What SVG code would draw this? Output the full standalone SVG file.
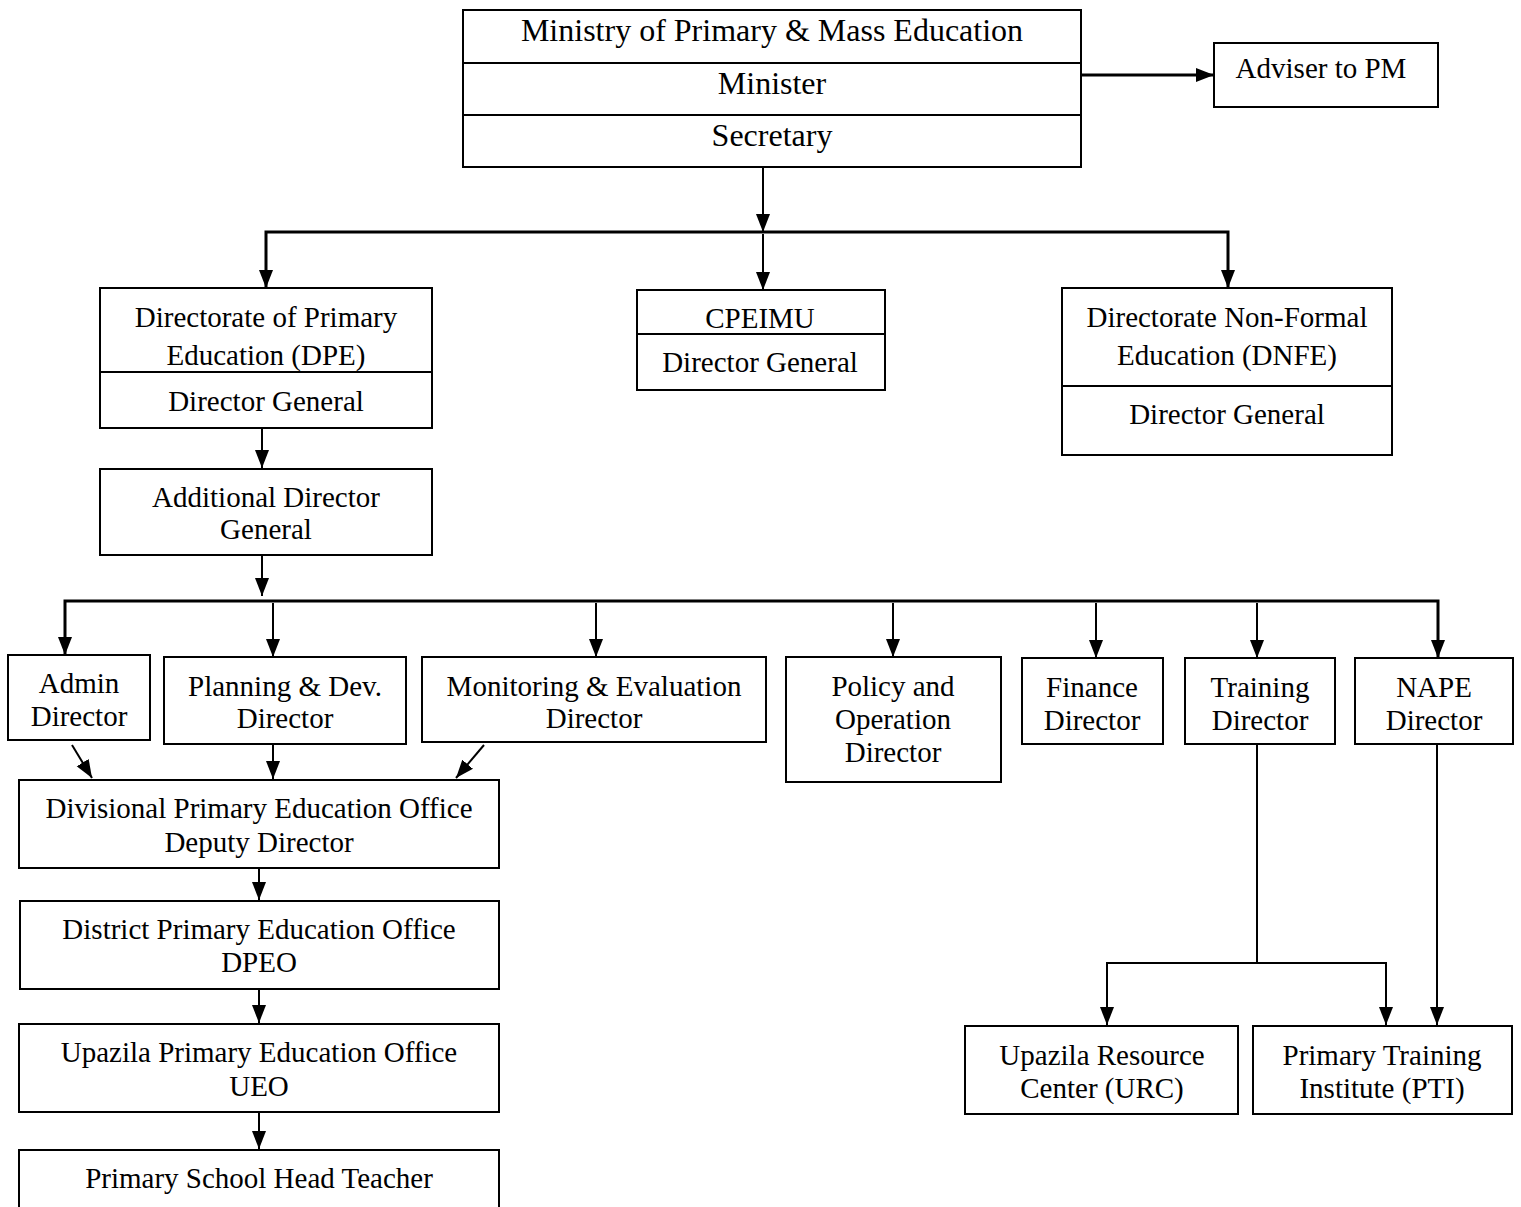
<svg xmlns="http://www.w3.org/2000/svg" width="1521" height="1207" viewBox="0 0 1521 1207">
<defs>
<marker id="ah" markerUnits="userSpaceOnUse" markerWidth="18" markerHeight="16" viewBox="0 0 18 16" refX="18" refY="8" orient="auto">
<path d="M0,1 L18,8 L0,15 Z" fill="#000"/>
</marker>
</defs>
<style>
.b{fill:#fff;stroke:#000;stroke-width:2}
.d{stroke:#000;stroke-width:2}
text{font-family:"Liberation Serif","Times New Roman",serif;font-size:29px;fill:#000;text-anchor:middle}
.big{font-size:32px}
.c{fill:none;stroke:#000;stroke-width:2}
.bus{fill:none;stroke:#000;stroke-width:3}
.a{fill:none;stroke:#000;stroke-width:2;marker-end:url(#ah)}
.a3{fill:none;stroke:#000;stroke-width:3;marker-end:url(#ah)}
</style>
<rect width="1521" height="1207" fill="#fff"/>
<g id="connectors">
<line class="a3" x1="1081" y1="75" x2="1214" y2="75"/>
<line class="a" x1="763" y1="167" x2="763" y2="232"/>
<polyline class="bus" points="266,288 266,232 1228,232 1228,288"/>
<line class="a" x1="266" y1="234" x2="266" y2="288"/>
<line class="a" x1="763" y1="234" x2="763" y2="290"/>
<line class="a" x1="1228" y1="234" x2="1228" y2="288"/>
<line class="a" x1="262" y1="428" x2="262" y2="468"/>
<line class="a" x1="262" y1="555" x2="262" y2="596"/>
<polyline class="bus" points="65,655 65,601 1438,601 1438,658"/>
<line class="a" x1="65" y1="603" x2="65" y2="655"/>
<line class="a" x1="273" y1="603" x2="273" y2="657"/>
<line class="a" x1="596" y1="603" x2="596" y2="657"/>
<line class="a" x1="893" y1="603" x2="893" y2="657"/>
<line class="a" x1="1096" y1="603" x2="1096" y2="658"/>
<line class="a" x1="1257" y1="603" x2="1257" y2="658"/>
<line class="a" x1="1438" y1="603" x2="1438" y2="658"/>
<line class="a" x1="72" y1="745" x2="92" y2="778"/>
<line class="a" x1="273" y1="744" x2="273" y2="779"/>
<line class="a" x1="484" y1="745" x2="456" y2="778"/>
<line class="a" x1="259" y1="868" x2="259" y2="900"/>
<line class="a" x1="259" y1="989" x2="259" y2="1023"/>
<line class="a" x1="259" y1="1113" x2="259" y2="1149"/>
<line class="c" x1="1257" y1="744" x2="1257" y2="963"/>
<polyline class="c" points="1107,1025 1107,963 1386,963 1386,1025"/>
<line class="a" x1="1107" y1="965" x2="1107" y2="1025"/>
<line class="a" x1="1386" y1="965" x2="1386" y2="1025"/>
<line class="a" x1="1437" y1="744" x2="1437" y2="1025"/>
</g>
<g id="ministry">
<rect class="b" x="463" y="10" width="618" height="157"/>
<line class="d" x1="463" y1="63" x2="1081" y2="63"/>
<line class="d" x1="463" y1="115" x2="1081" y2="115"/>
<text class="big" x="772" y="41">Ministry of Primary &amp; Mass Education</text>
<text class="big" x="772" y="94">Minister</text>
<text class="big" x="772" y="146">Secretary</text>
</g>
<g id="adviser">
<rect class="b" x="1214" y="43" width="224" height="64"/>
<text x="1321" y="78">Adviser to PM</text>
</g>
<g id="dpe">
<rect class="b" x="100" y="288" width="332" height="140"/>
<line class="d" x1="100" y1="372" x2="432" y2="372"/>
<text x="266" y="327">Directorate of Primary</text>
<text x="266" y="365">Education (DPE)</text>
<text x="266" y="411">Director General</text>
</g>
<g id="cpeimu">
<rect class="b" x="637" y="290" width="248" height="100"/>
<line class="d" x1="637" y1="334" x2="885" y2="334"/>
<text x="760" y="328">CPEIMU</text>
<text x="760" y="372">Director General</text>
</g>
<g id="dnfe">
<rect class="b" x="1062" y="288" width="330" height="167"/>
<line class="d" x1="1062" y1="386" x2="1392" y2="386"/>
<text x="1227" y="327">Directorate Non-Formal</text>
<text x="1227" y="365">Education (DNFE)</text>
<text x="1227" y="424">Director General</text>
</g>
<g id="adg">
<rect class="b" x="100" y="469" width="332" height="86"/>
<text x="266" y="507">Additional Director</text>
<text x="266" y="539">General</text>
</g>
<g id="admin">
<rect class="b" x="8" y="655" width="142" height="85"/>
<text x="79" y="693">Admin</text>
<text x="79" y="726">Director</text>
</g>
<g id="planning">
<rect class="b" x="164" y="657" width="242" height="87"/>
<text x="285" y="696">Planning &amp; Dev.</text>
<text x="285" y="728">Director</text>
</g>
<g id="monitoring">
<rect class="b" x="422" y="657" width="344" height="85"/>
<text x="594" y="696">Monitoring &amp; Evaluation</text>
<text x="594" y="728">Director</text>
</g>
<g id="policy">
<rect class="b" x="786" y="657" width="215" height="125"/>
<text x="893" y="696">Policy and</text>
<text x="893" y="729">Operation</text>
<text x="893" y="762">Director</text>
</g>
<g id="finance">
<rect class="b" x="1022" y="658" width="141" height="86"/>
<text x="1092" y="697">Finance</text>
<text x="1092" y="730">Director</text>
</g>
<g id="training">
<rect class="b" x="1185" y="658" width="150" height="86"/>
<text x="1260" y="697">Training</text>
<text x="1260" y="730">Director</text>
</g>
<g id="nape">
<rect class="b" x="1355" y="658" width="158" height="86"/>
<text x="1434" y="697">NAPE</text>
<text x="1434" y="730">Director</text>
</g>
<g id="divisional">
<rect class="b" x="19" y="780" width="480" height="88"/>
<text x="259" y="818">Divisional Primary Education Office</text>
<text x="259" y="852">Deputy Director</text>
</g>
<g id="district">
<rect class="b" x="20" y="901" width="479" height="88"/>
<text x="259" y="939">District Primary Education Office</text>
<text x="259" y="972">DPEO</text>
</g>
<g id="upazila">
<rect class="b" x="19" y="1024" width="480" height="88"/>
<text x="259" y="1062">Upazila Primary Education Office</text>
<text x="259" y="1096">UEO</text>
</g>
<g id="headteacher">
<rect class="b" x="19" y="1150" width="480" height="70"/>
<text x="259" y="1188">Primary School Head Teacher</text>
</g>
<g id="urc">
<rect class="b" x="965" y="1026" width="273" height="88"/>
<text x="1102" y="1065">Upazila Resource</text>
<text x="1102" y="1098">Center (URC)</text>
</g>
<g id="pti">
<rect class="b" x="1253" y="1026" width="259" height="88"/>
<text x="1382" y="1065">Primary Training</text>
<text x="1382" y="1098">Institute (PTI)</text>
</g>
</svg>
